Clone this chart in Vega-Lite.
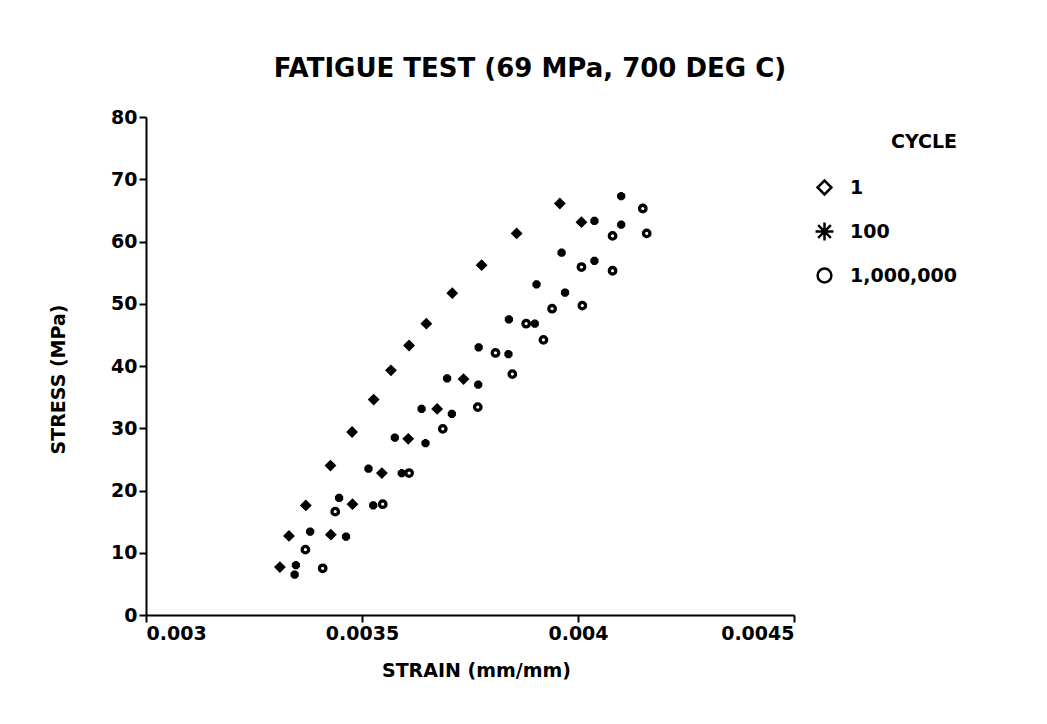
{
  "$schema": "https://vega.github.io/schema/vega-lite/v6.json",
  "width": 648,
  "height": 498,
  "autosize": "none",
  "padding": {"left": 146, "top": 117, "right": 253, "bottom": 109},
  "background": "white",
  "title": {
    "text": "FATIGUE TEST (69 MPa, 700 DEG C)",
    "font": "DejaVu Sans",
    "fontSize": 26,
    "fontWeight": "bold",
    "color": "black",
    "anchor": "middle",
    "dx": 60,
    "offset": 26
  },
  "data": {
    "values": [
      {"strain": 0.00331, "stress": 7.7, "cycle": "1"},
      {"strain": 0.003331, "stress": 12.7, "cycle": "1"},
      {"strain": 0.00337, "stress": 17.6, "cycle": "1"},
      {"strain": 0.003427, "stress": 24.0, "cycle": "1"},
      {"strain": 0.003477, "stress": 29.4, "cycle": "1"},
      {"strain": 0.003527, "stress": 34.6, "cycle": "1"},
      {"strain": 0.003567, "stress": 39.3, "cycle": "1"},
      {"strain": 0.003609, "stress": 43.3, "cycle": "1"},
      {"strain": 0.003649, "stress": 46.8, "cycle": "1"},
      {"strain": 0.003709, "stress": 51.7, "cycle": "1"},
      {"strain": 0.003777, "stress": 56.2, "cycle": "1"},
      {"strain": 0.003858, "stress": 61.3, "cycle": "1"},
      {"strain": 0.003958, "stress": 66.1, "cycle": "1"},
      {"strain": 0.004008, "stress": 63.1, "cycle": "1"},
      {"strain": 0.003428, "stress": 12.9, "cycle": "1"},
      {"strain": 0.003478, "stress": 17.8, "cycle": "1"},
      {"strain": 0.003546, "stress": 22.8, "cycle": "1"},
      {"strain": 0.003607, "stress": 28.3, "cycle": "1"},
      {"strain": 0.003674, "stress": 33.1, "cycle": "1"},
      {"strain": 0.003735, "stress": 37.9, "cycle": "1"},
      {"strain": 0.003347, "stress": 8.0, "cycle": "100"},
      {"strain": 0.003344, "stress": 6.5, "cycle": "100"},
      {"strain": 0.00338, "stress": 13.4, "cycle": "100"},
      {"strain": 0.003463, "stress": 12.6, "cycle": "100"},
      {"strain": 0.003447, "stress": 18.8, "cycle": "100"},
      {"strain": 0.003526, "stress": 17.6, "cycle": "100"},
      {"strain": 0.003515, "stress": 23.5, "cycle": "100"},
      {"strain": 0.003592, "stress": 22.8, "cycle": "100"},
      {"strain": 0.003576, "stress": 28.5, "cycle": "100"},
      {"strain": 0.003647, "stress": 27.6, "cycle": "100"},
      {"strain": 0.003638, "stress": 33.1, "cycle": "100"},
      {"strain": 0.003708, "stress": 32.3, "cycle": "100"},
      {"strain": 0.003697, "stress": 38.0, "cycle": "100"},
      {"strain": 0.003769, "stress": 37.0, "cycle": "100"},
      {"strain": 0.00377, "stress": 43.0, "cycle": "100"},
      {"strain": 0.003839, "stress": 41.9, "cycle": "100"},
      {"strain": 0.00384, "stress": 47.5, "cycle": "100"},
      {"strain": 0.0039, "stress": 46.8, "cycle": "100"},
      {"strain": 0.003904, "stress": 53.1, "cycle": "100"},
      {"strain": 0.00397, "stress": 51.8, "cycle": "100"},
      {"strain": 0.003962, "stress": 58.2, "cycle": "100"},
      {"strain": 0.004038, "stress": 56.9, "cycle": "100"},
      {"strain": 0.004038, "stress": 63.3, "cycle": "100"},
      {"strain": 0.0041, "stress": 62.7, "cycle": "100"},
      {"strain": 0.0041, "stress": 67.3, "cycle": "100"},
      {"strain": 0.003409, "stress": 7.5, "cycle": "1,000,000"},
      {"strain": 0.003369, "stress": 10.5, "cycle": "1,000,000"},
      {"strain": 0.003438, "stress": 16.6, "cycle": "1,000,000"},
      {"strain": 0.003548, "stress": 17.8, "cycle": "1,000,000"},
      {"strain": 0.003609, "stress": 22.8, "cycle": "1,000,000"},
      {"strain": 0.003687, "stress": 29.9, "cycle": "1,000,000"},
      {"strain": 0.003768, "stress": 33.4, "cycle": "1,000,000"},
      {"strain": 0.003848, "stress": 38.7, "cycle": "1,000,000"},
      {"strain": 0.003809, "stress": 42.1, "cycle": "1,000,000"},
      {"strain": 0.00392, "stress": 44.2, "cycle": "1,000,000"},
      {"strain": 0.00388, "stress": 46.8, "cycle": "1,000,000"},
      {"strain": 0.00394, "stress": 49.2, "cycle": "1,000,000"},
      {"strain": 0.00401, "stress": 49.7, "cycle": "1,000,000"},
      {"strain": 0.004008, "stress": 55.9, "cycle": "1,000,000"},
      {"strain": 0.00408, "stress": 55.3, "cycle": "1,000,000"},
      {"strain": 0.00408, "stress": 60.9, "cycle": "1,000,000"},
      {"strain": 0.004159, "stress": 61.3, "cycle": "1,000,000"},
      {"strain": 0.00415, "stress": 65.3, "cycle": "1,000,000"}
    ]
  },
  "encoding": {
    "x": {
      "field": "strain",
      "type": "quantitative",
      "scale": {"domain": [0.003, 0.0045], "nice": false, "zero": false},
      "axis": {
        "title": "STRAIN (mm/mm)",
        "values": [0.003, 0.0035, 0.004, 0.0045],
        "format": "~g",
        "grid": false,
        "titleX": 330,
        "titleY": 46,
        "titleBaseline": "top"
      }
    },
    "y": {
      "field": "stress",
      "type": "quantitative",
      "scale": {"domain": [0, 80], "nice": false},
      "axis": {
        "title": "STRESS (MPa)",
        "values": [0, 10, 20, 30, 40, 50, 60, 70, 80],
        "grid": false,
        "titleX": -88,
        "titleY": 262,
        "titleBaseline": "middle"
      }
    },
    "shape": {
      "field": "cycle",
      "type": "nominal",
      "scale": {
        "domain": ["1", "100", "1,000,000"],
        "range": ["diamond", "M-1.3,0L1.3,0M0,-1.3L0,1.3M-0.92,-0.92L0.92,0.92M-0.92,0.92L0.92,-0.92", "circle"]
      },
      "legend": {
        "title": "CYCLE",
        "orient": "none",
        "legendX": 669,
        "legendY": 16,
        "titleAnchor": "end",
        "titlePadding": 26,
        "rowPadding": 17,
        "symbolSize": 190,
        "symbolStrokeWidth": 2.5,
        "symbolStrokeColor": "black",
        "symbolFillColor": "transparent",
        "labelOffset": 16
      }
    }
  },
  "layer": [
    {
      "transform": [{"filter": "datum.cycle === '1'"}],
      "mark": {"type": "point", "filled": false, "stroke": "black", "opacity": 1, "size": 30, "strokeWidth": 4.5}
    },
    {
      "transform": [{"filter": "datum.cycle === '100'"}],
      "mark": {"type": "point", "filled": false, "stroke": "black", "opacity": 1, "size": 40, "strokeWidth": 3.5}
    },
    {
      "transform": [{"filter": "datum.cycle === '1,000,000'"}],
      "mark": {"type": "point", "filled": false, "stroke": "black", "opacity": 1, "size": 42, "strokeWidth": 3.3}
    }
  ],
  "config": {
    "view": {"stroke": null},
    "font": "DejaVu Sans",
    "axis": {
      "domainColor": "black",
      "domainWidth": 2,
      "tickColor": "black",
      "tickWidth": 2,
      "tickSize": 7,
      "labelFont": "DejaVu Sans",
      "labelFontSize": 19,
      "labelFontWeight": "bold",
      "labelColor": "black",
      "labelPadding": 2,
      "titleFont": "DejaVu Sans",
      "titleFontSize": 19,
      "titleFontWeight": "bold",
      "titleColor": "black"
    },
    "legend": {
      "titleFont": "DejaVu Sans",
      "titleFontSize": 19,
      "titleFontWeight": "bold",
      "titleColor": "black",
      "labelFont": "DejaVu Sans",
      "labelFontSize": 19,
      "labelFontWeight": "bold",
      "labelColor": "black"
    }
  }
}
